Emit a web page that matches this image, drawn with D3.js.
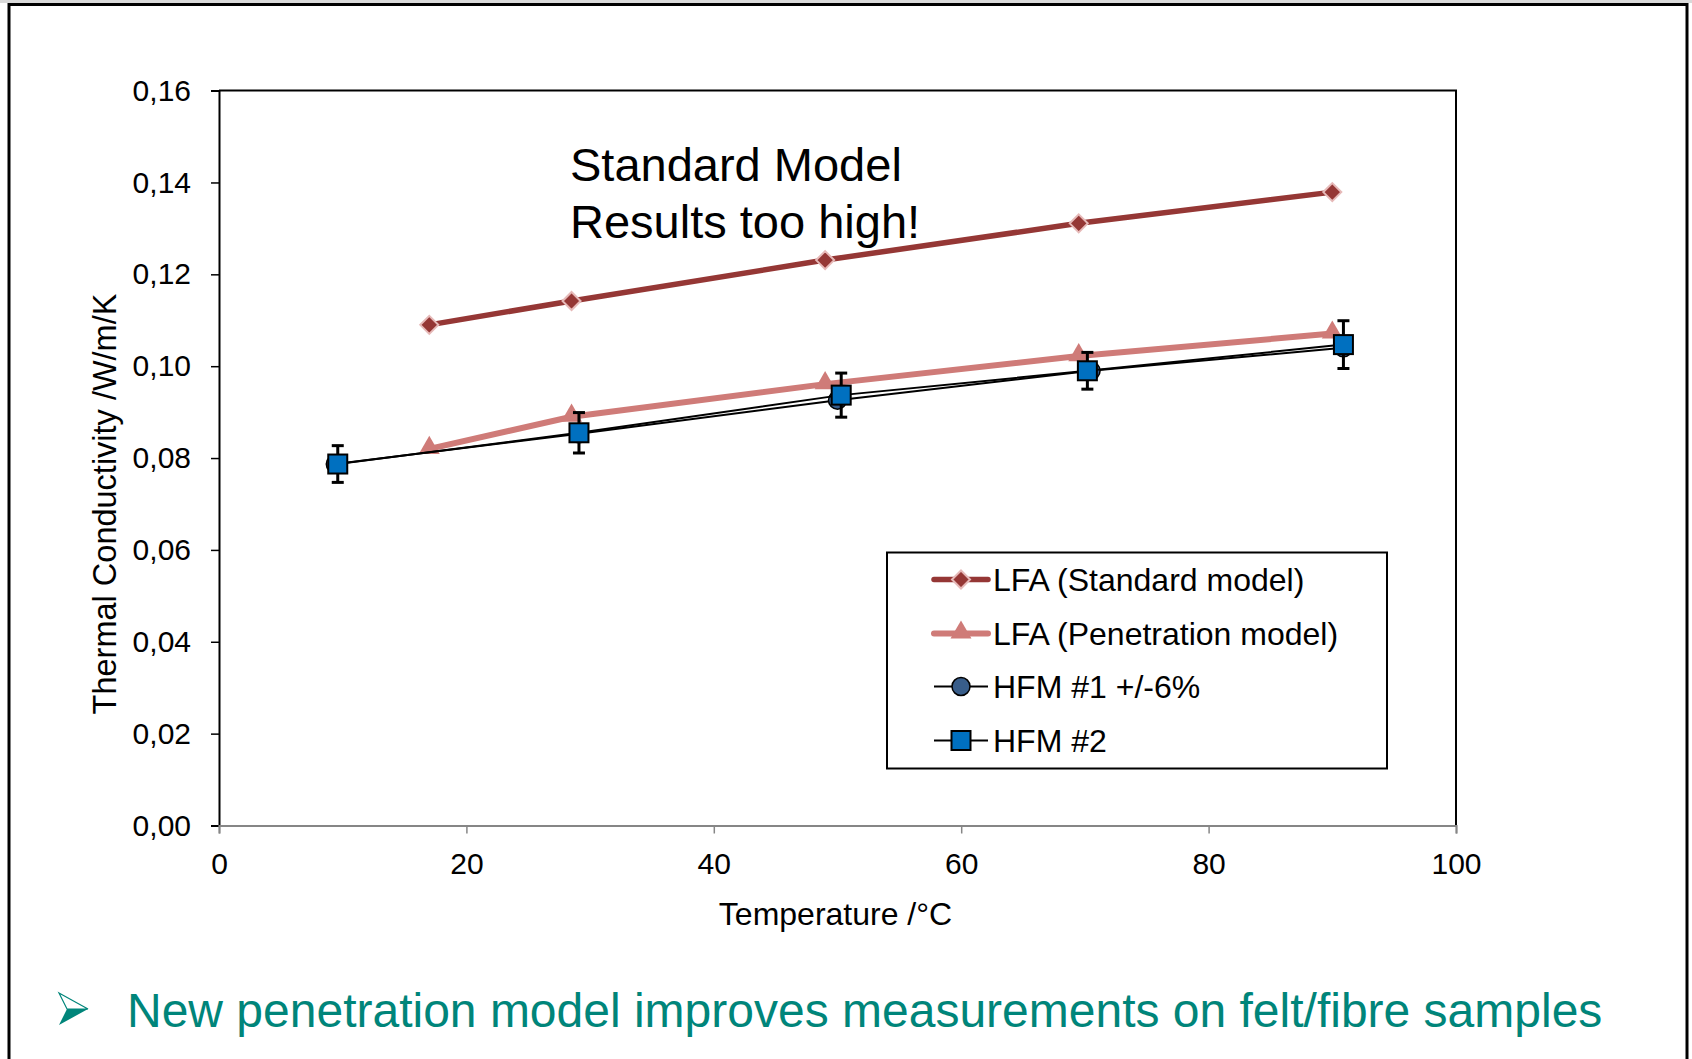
<!DOCTYPE html>
<html>
<head>
<meta charset="utf-8">
<script src="https://cdn.jsdelivr.net/npm/d3@7"></script>
<style>
  body { margin: 0; background: #fff; }
  text { font-family: Arial, "Liberation Sans", sans-serif; }
</style>
</head>
<body>
<div id="chart"></div>
<script>
// temperatures (°C) and conductivities (W/m/K)
const lfaStdTemp = [17.0, 28.5, 49.0, 69.5, 90.0];
const lfaStdVal = [0.1090, 0.1142, 0.1231, 0.1311, 0.1379];
const lfaPenTemp = [17.0, 28.5, 49.0, 69.5, 90.0];
const lfaPenVal = [0.0820, 0.0890, 0.0961, 0.1022, 0.1071];
const hfm1Temp = [9.4, 29.1, 50.0, 70.5, 90.9];
const hfm1Val = [0.0787, 0.0853, 0.0926, 0.0990, 0.1040];
const hfm2Temp = [9.6, 29.1, 50.3, 70.2, 90.9];
const hfm2Val = [0.0787, 0.0855, 0.0937, 0.0990, 0.1047];
const hfm2Err = [0.0040, 0.0044, 0.0048, 0.0040, 0.0052];
const xTicks = [0, 20, 40, 60, 80, 100];
const yTicks = [0, 0.02, 0.04, 0.06, 0.08, 0.10, 0.12, 0.14, 0.16];
const legendNames = ["LFA (Standard model)", "LFA (Penetration model)", "HFM #1 +/-6%", "HFM #2"];

const width = 1692, height = 1059;
const plot = {left: 219, right: 1456, top: 90.6, bottom: 825.5};
const cRed = "#953735", cRedEdge = "#E6B9B8", cPink = "#CF7B78";
const cSquare = "#0070C0", cCircle = "#385D8A", cTeal = "#00857A";

const svg = d3.select("#chart").append("svg")
  .attr("width", width)
  .attr("height", height);

// slide frame
svg.append("rect").attr("x", 0).attr("y", 0).attr("width", width).attr("height", 3).attr("fill", "#d9d9d9");
svg.append("rect")
  .attr("x", 9).attr("y", 4.5).attr("width", 1678).attr("height", 1100)
  .attr("fill", "none").attr("stroke", "#000").attr("stroke-width", 3);

const x = d3.scaleLinear().domain([0, 100]).range([plot.left, plot.right]);
const y = d3.scaleLinear().domain([0, 0.16]).range([plot.bottom, plot.top]);
const fmt = d => d3.format(".2f")(d).replace(".", ",");

// plot area border (top and right)
svg.append("path")
  .attr("d", `M${plot.left},${plot.top}H${plot.right}V${plot.bottom}`)
  .attr("fill", "none").attr("stroke", "#000").attr("stroke-width", 2);

// y axis
const yAxis = svg.append("g")
  .attr("transform", `translate(${plot.left},0)`)
  .call(d3.axisLeft(y).tickValues(yTicks).tickFormat(fmt).tickSize(8).tickPadding(20));
yAxis.select(".domain").attr("stroke", "#000").attr("stroke-width", 2);
yAxis.selectAll(".tick line").attr("stroke", "#000").attr("stroke-width", 1.5);
yAxis.selectAll("text").style("font-size", "30px").attr("fill", "#000")
  .style("font-family", "Arial, 'Liberation Sans', sans-serif");

// x axis
const xAxis = svg.append("g")
  .attr("transform", `translate(0,${plot.bottom})`)
  .call(d3.axisBottom(x).tickValues(xTicks).tickFormat(d3.format("d")).tickSize(8).tickPadding(19));
xAxis.select(".domain").attr("stroke", "#868686").attr("stroke-width", 2);
xAxis.selectAll(".tick line").attr("stroke", "#868686").attr("stroke-width", 1.5);
xAxis.selectAll("text").style("font-size", "30px").attr("fill", "#000")
  .style("font-family", "Arial, 'Liberation Sans', sans-serif");

// axis titles
svg.append("text")
  .attr("x", (plot.left + plot.right) / 2 - 2).attr("y", 925)
  .attr("text-anchor", "middle").style("font-size", "32px")
  .text("Temperature /°C");
svg.append("text")
  .attr("transform", "translate(105,504) rotate(-90)")
  .attr("text-anchor", "middle").attr("dominant-baseline", "central")
  .style("font-size", "32.5px")
  .text("Thermal Conductivity /W/m/K");

// annotation
svg.append("text").attr("x", 570).attr("y", 181).style("font-size", "47px").text("Standard Model");
svg.append("text").attr("x", 570).attr("y", 238).style("font-size", "47px").text("Results too high!");

const line = d3.line().x(d => x(d[0])).y(d => y(d[1]));
const zip = (a, b) => a.map((v, i) => [v, b[i]]);

// square turned 45 degrees
const diamond = "M0,-9L9,0L0,9L-9,0Z";
const triangle = d3.symbol().type(d3.symbolTriangle).size(190);

// LFA standard model
svg.append("path").attr("d", line(zip(lfaStdTemp, lfaStdVal)))
  .attr("fill", "none").attr("stroke", cRed).attr("stroke-width", 5.5);
svg.append("g").selectAll("path").data(zip(lfaStdTemp, lfaStdVal)).enter().append("path")
  .attr("d", diamond)
  .attr("transform", d => `translate(${x(d[0])},${y(d[1])})`)
  .attr("fill", cRed).attr("stroke", cRedEdge).attr("stroke-width", 2);

// LFA penetration model
svg.append("path").attr("d", line(zip(lfaPenTemp, lfaPenVal)))
  .attr("fill", "none").attr("stroke", cPink).attr("stroke-width", 6);
svg.append("g").selectAll("path").data(zip(lfaPenTemp, lfaPenVal)).enter().append("path")
  .attr("d", triangle)
  .attr("transform", d => `translate(${x(d[0])},${y(d[1]) - 1})`)
  .attr("fill", cPink);

// HFM #1
svg.append("path").attr("d", line(zip(hfm1Temp, hfm1Val)))
  .attr("fill", "none").attr("stroke", "#000").attr("stroke-width", 2);
svg.append("g").selectAll("circle").data(zip(hfm1Temp, hfm1Val)).enter().append("circle")
  .attr("cx", d => x(d[0])).attr("cy", d => y(d[1])).attr("r", 9)
  .attr("fill", cCircle).attr("stroke", "#000").attr("stroke-width", 1.5);

// HFM #2 with error bars
const hfm2 = hfm2Temp.map((t, i) => ({t: t, v: hfm2Val[i], e: hfm2Err[i]}));
svg.append("path").attr("d", line(zip(hfm2Temp, hfm2Val)))
  .attr("fill", "none").attr("stroke", "#000").attr("stroke-width", 2);
const err = svg.append("g").selectAll("g").data(hfm2).enter().append("g")
  .attr("stroke", "#000").attr("stroke-width", 3);
err.append("line")
  .attr("x1", d => x(d.t)).attr("x2", d => x(d.t))
  .attr("y1", d => y(d.v + d.e)).attr("y2", d => y(d.v - d.e));
err.append("line")
  .attr("x1", d => x(d.t) - 6).attr("x2", d => x(d.t) + 6)
  .attr("y1", d => y(d.v + d.e)).attr("y2", d => y(d.v + d.e));
err.append("line")
  .attr("x1", d => x(d.t) - 6).attr("x2", d => x(d.t) + 6)
  .attr("y1", d => y(d.v - d.e)).attr("y2", d => y(d.v - d.e));
svg.append("g").selectAll("rect").data(hfm2).enter().append("rect")
  .attr("x", d => x(d.t) - 9.5).attr("y", d => y(d.v) - 9.5)
  .attr("width", 19).attr("height", 19)
  .attr("fill", cSquare).attr("stroke", "#000").attr("stroke-width", 2);

// legend
const legend = svg.append("g").attr("transform", "translate(887,552.5)");
legend.append("rect").attr("width", 500).attr("height", 216)
  .attr("fill", "#fff").attr("stroke", "#000").attr("stroke-width", 2);
const rowY = [27, 81, 134, 188];
const legStyles = [
  {stroke: cRed, sw: 5.5, mark: "diamond"},
  {stroke: cPink, sw: 6, mark: "triangle"},
  {stroke: "#000", sw: 2, mark: "circle"},
  {stroke: "#000", sw: 2, mark: "square"}
];
legendNames.forEach((name, i) => {
  const row = legend.append("g").attr("transform", `translate(0,${rowY[i]})`);
  const s = legStyles[i];
  row.append("line").attr("x1", 47).attr("x2", 101).attr("y1", 0).attr("y2", 0)
    .attr("stroke", s.stroke).attr("stroke-width", s.sw).attr("stroke-linecap", s.sw > 3 ? "round" : "butt");
  if (s.mark === "diamond") {
    row.append("path").attr("d", diamond).attr("transform", "translate(74,0)")
      .attr("fill", cRed).attr("stroke", cRedEdge).attr("stroke-width", 2);
  } else if (s.mark === "triangle") {
    row.append("path").attr("d", triangle).attr("transform", "translate(74,-1)").attr("fill", cPink);
  } else if (s.mark === "circle") {
    row.append("circle").attr("cx", 74).attr("cy", 0).attr("r", 9)
      .attr("fill", cCircle).attr("stroke", "#000").attr("stroke-width", 1.5);
  } else {
    row.append("rect").attr("x", 64.5).attr("y", -9.5).attr("width", 19).attr("height", 19)
      .attr("fill", cSquare).attr("stroke", "#000").attr("stroke-width", 2);
  }
  row.append("text").attr("x", 106).attr("y", 0).attr("dominant-baseline", "central")
    .style("font-size", "32px").text(name);
});

// bullet line at the bottom
svg.append("path").attr("d", "M59,993L88,1009L67,1009Z").attr("fill", "#fff").attr("stroke", cTeal).attr("stroke-width", 1.2);
svg.append("path").attr("d", "M59,1025L88,1009L67,1009Z").attr("fill", cTeal);
svg.append("text").attr("x", 127).attr("y", 1027)
  .style("font-size", "48px").attr("fill", cTeal)
  .text("New penetration model improves measurements on felt/fibre samples");
</script>
</body>
</html>
